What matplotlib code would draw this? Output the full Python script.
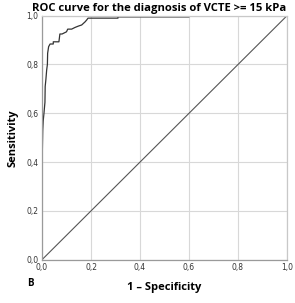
import matplotlib
matplotlib.use("Agg")
import matplotlib.pyplot as plt
from matplotlib.ticker import FuncFormatter

fpr = [0, 0, 0.003, 0.005, 0.008, 0.012, 0.013, 0.016, 0.019, 0.022, 0.023, 0.027,
       0.033, 0.046, 0.046, 0.069, 0.073, 0.082, 0.100, 0.105, 0.121, 0.135, 0.150,
       0.162, 0.176, 0.182, 0.188, 0.310, 0.310, 0.600, 0.600, 1.0]
tpr = [0, 0.37, 0.53, 0.57, 0.60, 0.645, 0.71, 0.74, 0.777, 0.80, 0.846, 0.873,
       0.884, 0.884, 0.893, 0.893, 0.925, 0.925, 0.934, 0.945, 0.945, 0.952, 0.958,
       0.962, 0.975, 0.982, 0.990, 0.990, 0.995, 0.995, 1.0, 1.0]
ref = [0, 1]
ticks = [0, 0.2, 0.4, 0.6, 0.8, 1.0]

fig = plt.figure(figsize=(2.95, 3.03), dpi=100)
ax = fig.add_axes([42/295, 43.3/303, 245/295, 244/303])

ax.set_xlim(0, 1)
ax.set_ylim(0, 1)
ax.set_xticks(ticks)
ax.set_yticks(ticks)
fmt = FuncFormatter(lambda v, p: f"{v:.1f}".replace(".", ","))
ax.xaxis.set_major_formatter(fmt)
ax.yaxis.set_major_formatter(fmt)
ax.grid(True, color="#d8d8d8", linewidth=0.8)
ax.set_axisbelow(True)
ax.tick_params(length=0, labelsize=5.5, colors="#333333", pad=2.5)

for s in ["left", "bottom"]:
    ax.spines[s].set_color("#9a9a9a")
    ax.spines[s].set_linewidth(0.9)
for s in ["top", "right"]:
    ax.spines[s].set_color("#c8c8c8")
    ax.spines[s].set_linewidth(0.9)

ax.plot(ref, ref, color="#555555", linewidth=0.8)
ax.plot(fpr, tpr, color="#333333", linewidth=0.9)

ax.set_title("ROC curve for the diagnosis of VCTE >= 15 kPa", x=0.48,
             fontsize=8.1, fontweight="bold", family="Open Sans", pad=3.5)
ax.set_xlabel("1 – Specificity", fontsize=8, fontweight="bold", family="Open Sans", labelpad=7)
ax.set_ylabel("Sensitivity", fontsize=8, fontweight="bold", family="Open Sans", labelpad=6)
fig.text(30/295, 1 - 283/303, "B", fontsize=7, fontweight="bold", family="Open Sans",
         va="center", ha="center")

fig.savefig("out.png", dpi=100)
